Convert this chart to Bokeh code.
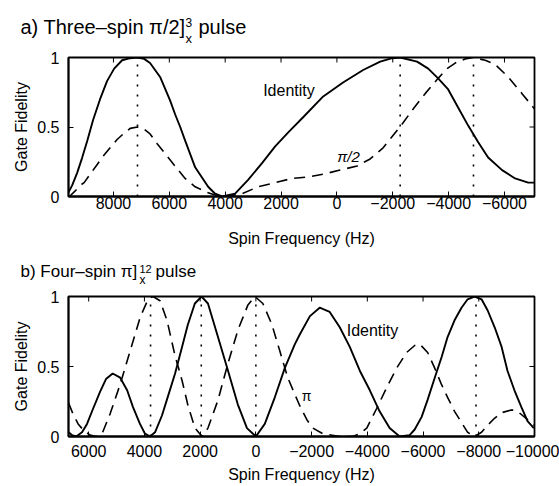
from bokeh.plotting import figure
from bokeh.models import Range1d, FixedTicker, CustomJSTickFormatter, Label
from bokeh.layouts import column
from bokeh.embed import file_html
from bokeh.resources import INLINE

FONT = "Liberation Sans"

# ---------------- data ----------------
y_ticks = [0, 0.5, 1]

# panel a) Three-spin pi/2]_x^3 pulse
a_x_range = (9610, -7075)
a_ticks = [8000, 6000, 4000, 2000, 0, -2000, -4000, -6000]
a_identity_hz = [9610, 9480, 9300, 9120, 8940, 8730, 8480, 8230, 7975, 7690, 7400, 7140,
                 6900, 6690, 6330, 5970, 5790, 5610, 5430, 5075, 4610, 4360, 4110, 3645,
                 3180, 2680, 2210, 1750, 1210, 490, -220, -940, -1550, -1980, -2265,
                 -2870, -3270, -3625, -3985, -4340, -4700, -5060, -5415, -5915, -6380,
                 -6850, -7075]
a_identity_f = [0.03, 0.08, 0.17, 0.28, 0.40, 0.55, 0.70, 0.83, 0.92, 0.98, 0.995, 1.00,
                0.99, 0.96, 0.86, 0.69, 0.59, 0.50, 0.40, 0.21, 0.07, 0.02, 0.00, 0.02,
                0.12, 0.24, 0.36, 0.46, 0.57, 0.72, 0.82, 0.91, 0.97, 0.995, 1.00,
                0.97, 0.92, 0.85, 0.77, 0.64, 0.51, 0.39, 0.28, 0.19, 0.13,
                0.10, 0.10]
a_pi2_hz = [9610, 9575, 9370, 9190, 9050, 8835, 8620, 8370, 8080, 7870, 7650, 7400, 7140,
            6940, 6690, 6435, 6080, 5720, 5435, 5075, 4645, 4360, 4000, 3395, 2820, 2210,
            1605, 1065, 495, -115, -725, -1190, -1655, -2015, -2370, -2730, -3160, -3625,
            -3945, -4235, -4590, -4880, -5310, -5665, -6130, -6630, -7075]
a_pi2_f = [0.00, 0.00, 0.04, 0.08, 0.10, 0.16, 0.22, 0.29, 0.36, 0.41, 0.45, 0.49, 0.50,
           0.49, 0.45, 0.38, 0.29, 0.20, 0.13, 0.07, 0.03, 0.01, 0.00, 0.02, 0.07, 0.10,
           0.13, 0.14, 0.16, 0.19, 0.22, 0.27, 0.35, 0.44, 0.53, 0.63, 0.74, 0.85,
           0.92, 0.96, 0.99, 1.00, 0.98, 0.95, 0.86, 0.74, 0.63]
a_marks = [7140, -2265, -4890]

# panel b) Four-spin pi]_x^12 pulse
b_x_range = (6725, -10000)
b_ticks = [6000, 4000, 2000, 0, -2000, -4000, -6000, -8000, -10000]
b_identity_hz = [6725, 6600, 6450, 6240, 6060, 5840, 5590, 5380, 5140, 4870, 4620, 4410,
                 4160, 3980, 3800, 3620, 3370, 3150, 2900, 2650, 2440, 2190, 1950, 1720,
                 1360, 1000, 650, 320, 0, -320, -680, -1040, -1400, -1580, -1940, -2290,
                 -2650, -3010, -3370, -3730, -4090, -4440, -4800, -5160, -5520, -5700,
                 -5950, -6160, -6420, -6670, -6880, -7130, -7380, -7600, -7850, -8100,
                 -8320, -8570, -8820, -9030, -9280, -9530, -9750, -9975]
b_identity_f = [0.03, 0.01, 0.00, 0.03, 0.09, 0.20, 0.32, 0.41, 0.45, 0.42, 0.33, 0.21,
                0.09, 0.02, 0.00, 0.03, 0.15, 0.29, 0.45, 0.64, 0.80, 0.95, 1.00, 0.95,
                0.71, 0.47, 0.23, 0.06, 0.00, 0.09, 0.28, 0.49, 0.66, 0.73, 0.86, 0.92,
                0.89, 0.78, 0.64, 0.47, 0.33, 0.18, 0.06, 0.00, 0.01, 0.05,
                0.14, 0.26, 0.42, 0.57, 0.71, 0.83, 0.92, 0.98, 1.00, 0.98,
                0.90, 0.78, 0.64, 0.47, 0.33, 0.21, 0.11, 0.06]
b_pi_hz = [6725, 6560, 6380, 6165, 5950, 5735, 5520, 5235, 4875, 4515, 4155, 3870, 3690,
           3440, 3190, 2905, 2650, 2435, 2185, 1935, 1720, 1360, 1005, 645, 285, 35, -250,
           -575, -860, -1145, -1400, -1575, -1830, -2045, -2400, -3010, -3475, -3725,
           -3980, -4335, -4695, -5055, -5410, -5700, -5880, -6165, -6415, -6665, -6880,
           -7130, -7380, -7600, -7850, -8100, -8315, -8565, -8815, -9175, -9390, -9750,
           -9975]
b_pi_f = [0.24, 0.16, 0.09, 0.04, 0.01, 0.00, 0.02, 0.16, 0.37, 0.61, 0.85, 0.98, 1.00,
          0.97, 0.83, 0.58, 0.40, 0.22, 0.06, 0.00, 0.06, 0.26, 0.52, 0.76, 0.94, 1.00, 0.95,
          0.80, 0.61, 0.42, 0.30, 0.22, 0.12, 0.06, 0.02, 0.00, 0.00, 0.02,
          0.06, 0.20, 0.35, 0.49, 0.60, 0.65, 0.66, 0.60, 0.49, 0.37, 0.28,
          0.18, 0.10, 0.03, 0.00, 0.03, 0.08, 0.13, 0.17, 0.19, 0.18, 0.12,
          0.08]
b_marks = [3780, 1960, 0, -7900]

# title texts
a_title = ["a) Three\u2013spin \u03c0/2]", "3", "x", "pulse"]
b_title = ["b) Four\u2013spin \u03c0]", "12", "x", "pulse"]

# ---------------- layout constants ----------------
W = 559
LEFT, RIGHT = 68, 25
FRAME_W = W - LEFT - RIGHT
TICK = 5  # inward tick length in px

x_fmt = CustomJSTickFormatter(code="return String(tick).replace('-', '\\u2212');")
y_fmt = CustomJSTickFormatter(code="return tick == 0.5 ? '0.5' : tick.toFixed(0);")


def no_align(p):
    if "frame_align" in p.properties():
        p.frame_align = False


def title_fig(height, texts, xs, ys, sizes):
    t = figure(width=W, height=height, x_range=Range1d(0, W), y_range=Range1d(height, 0),
               output_backend="svg", toolbar_location=None,
               min_border_left=0, min_border_right=0, min_border_top=0, min_border_bottom=0,
               x_axis_type=None, y_axis_type=None)
    no_align(t)
    t.xgrid.visible = False
    t.ygrid.visible = False
    t.outline_line_color = None
    for txt, x, y, s in zip(texts, xs, ys, sizes):
        t.add_layout(Label(x=x, y=y, text=txt, text_font=FONT, text_font_size=s,
                           text_color="black", text_baseline="middle", text_align="left"))
    return t


def make_panel(xr, ticks, height, top, bottom, tick_standoff, label_standoff):
    p = figure(width=W, height=height, x_range=Range1d(*xr), y_range=Range1d(0, 1),
               output_backend="svg", toolbar_location=None,
               min_border_left=LEFT, min_border_right=RIGHT,
               min_border_top=top, min_border_bottom=bottom)
    no_align(p)
    p.xgrid.visible = False
    p.ygrid.visible = False
    p.outline_line_color = "black"
    p.outline_line_width = 1.8
    p.background_fill_color = "white"
    p.border_fill_color = "white"

    p.xaxis.ticker = FixedTicker(ticks=ticks)
    p.yaxis.ticker = FixedTicker(ticks=y_ticks)
    p.xaxis.formatter = x_fmt
    p.yaxis.formatter = y_fmt
    for ax in (p.xaxis[0], p.yaxis[0]):
        ax.axis_line_color = "black"
        ax.axis_line_width = 1.8
        ax.major_tick_in = TICK
        ax.major_tick_out = 0
        ax.major_tick_line_color = "black"
        ax.major_tick_line_width = 1
        ax.minor_tick_line_color = None
        ax.major_label_text_font = FONT
        ax.major_label_text_font_size = "16px"
        ax.major_label_text_color = "black"
        ax.axis_label_text_font = FONT
        ax.axis_label_text_font_size = "16px"
        ax.axis_label_text_font_style = "normal"
        ax.axis_label_text_color = "black"
    p.xaxis.axis_label = "Spin Frequency (Hz)"
    p.yaxis.axis_label = "Gate Fidelity"
    p.xaxis.major_label_standoff = tick_standoff
    p.xaxis.axis_label_standoff = label_standoff
    p.yaxis.major_label_standoff = 9
    p.yaxis.axis_label_standoff = 4

    # mirrored inward ticks on the top and right edges
    frame_h = height - top - bottom
    dy = TICK / frame_h
    dx = (xr[0] - xr[1]) * TICK / FRAME_W  # toward the left (start) side
    p.segment(x0=ticks, y0=[1] * len(ticks), x1=ticks, y1=[1 - dy] * len(ticks),
              line_color="black", line_width=1)
    p.segment(x0=[xr[1]] * len(y_ticks), y0=y_ticks, x1=[xr[1] + dx] * len(y_ticks),
              y1=y_ticks, line_color="black", line_width=1)
    return p


def note(p, x, y, text, size, style="normal"):
    p.add_layout(Label(x=x, y=y, text=text, text_font=FONT, text_font_size=size,
                       text_color="black", text_baseline="middle", text_align="left",
                       text_font_style=style))


# ---------------- panel a ----------------
ta = title_fig(47, a_title, [20, 185, 185, 198], [26, 22, 38, 26],
               ["20px", "12px", "13px", "20px"])
HA, TOPA, BOTA = 204, 10, 55
pa = make_panel(a_x_range, a_ticks, HA, TOPA, BOTA, 0, 18)
pa.segment(x0=a_marks, y0=[0] * len(a_marks), x1=a_marks, y1=[1] * len(a_marks),
           line_color="black", line_width=1.6, line_dash="2 8")
pa.line(a_pi2_hz, a_pi2_f, line_color="black", line_width=1.6, line_dash="11 7")
pa.line(a_identity_hz, a_identity_f, line_color="black", line_width=1.9)
note(pa, 2640, 0.76, "Identity", "16px")
note(pa, -10, 0.29, "\u03c0/2", "15px", "italic")

# ---------------- panel b ----------------
tb = title_fig(39, b_title, [20, 139, 139, 155], [20, 17, 28, 20],
               ["17px", "11px", "12px", "17px"])
HB, TOPB, BOTB = 196, 6, 50
pb = make_panel(b_x_range, b_ticks, HB, TOPB, BOTB, 8, 6)
pb.segment(x0=b_marks, y0=[0] * len(b_marks), x1=b_marks, y1=[1] * len(b_marks),
           line_color="black", line_width=1.6, line_dash="2 8")
pb.line(b_pi_hz, b_pi_f, line_color="black", line_width=1.6, line_dash="11 7")
pb.line(b_identity_hz, b_identity_f, line_color="black", line_width=1.9)
note(pb, -3260, 0.755, "Identity", "16px")
note(pb, -1650, 0.29, "\u03c0", "14px")

layout = column(ta, pa, tb, pb, spacing=0)
open("out.html", "w").write(file_html(layout, INLINE))
